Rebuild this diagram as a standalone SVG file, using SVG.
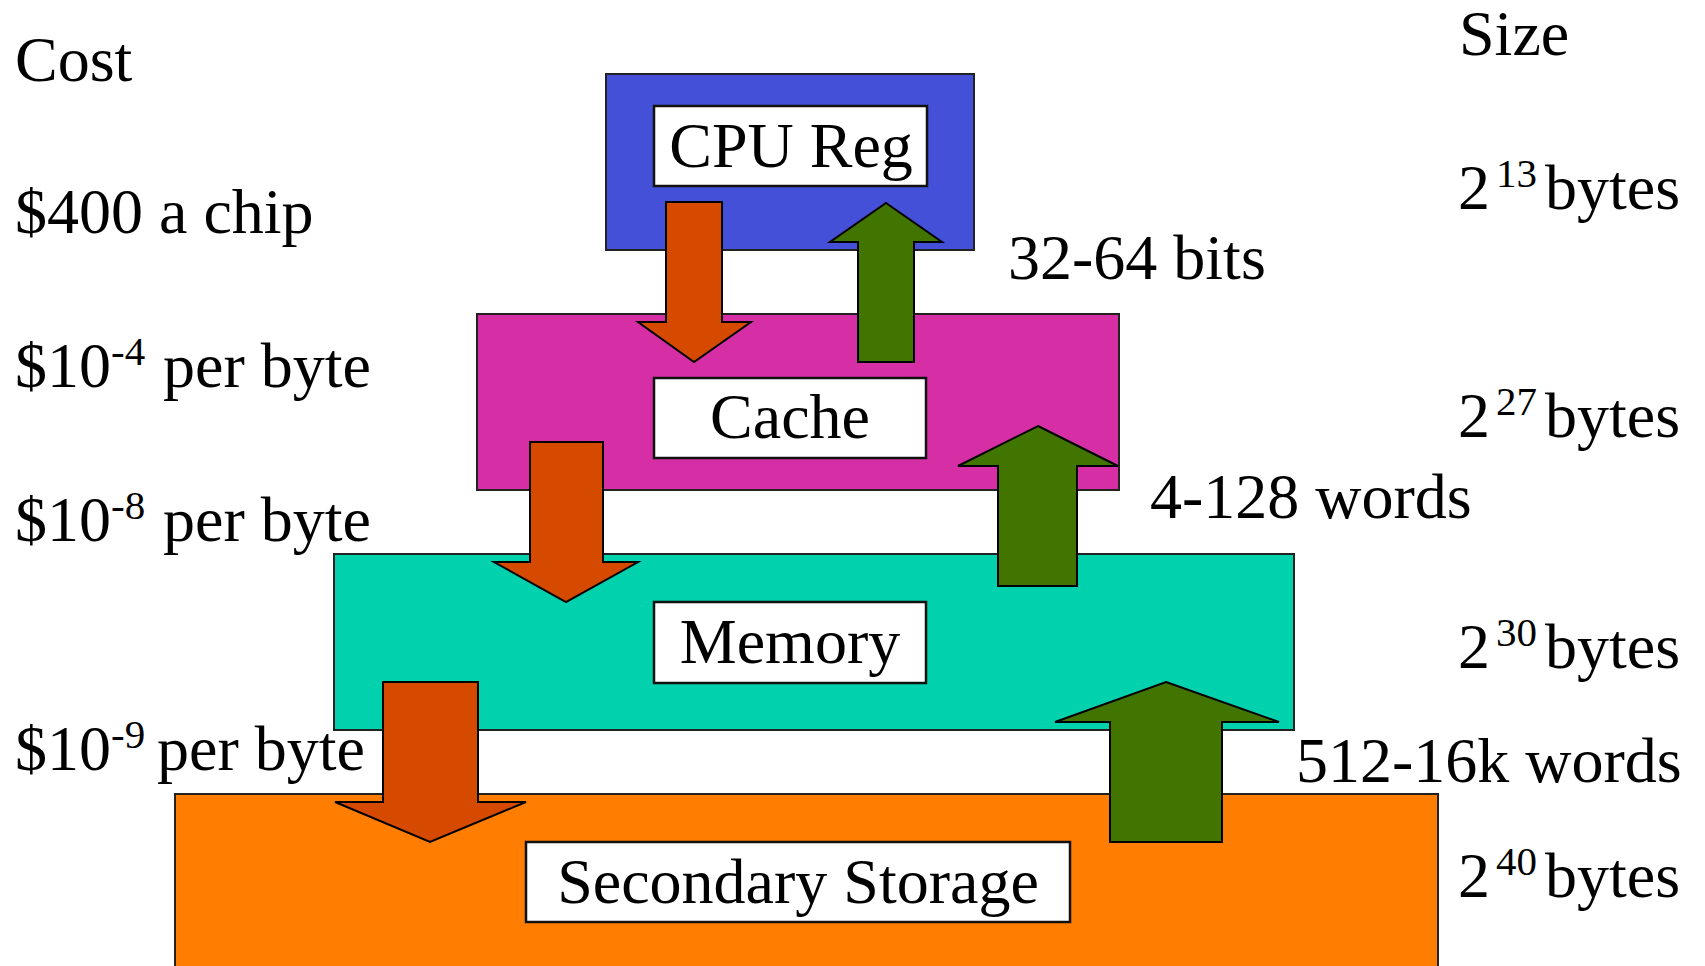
<svg xmlns="http://www.w3.org/2000/svg" width="1705" height="966" viewBox="0 0 1705 966">
  <style>
    text { font-family: "Liberation Serif", "Times New Roman", serif; font-size: 64px; fill: #000; }
    .sup { font-size: 41px; }
    .lbl { text-anchor: middle; }
    .tier { stroke: #222; stroke-width: 2; }
    .box { fill: #fff; stroke: #111; stroke-width: 2.5; }
    .down { fill: #D64A00; stroke: #000; stroke-width: 2; stroke-linejoin: miter; }
    .up { fill: #417500; stroke: #000; stroke-width: 2; stroke-linejoin: miter; }
  </style>

  <rect width="1705" height="966" fill="#fff"/>

  <!-- Memory hierarchy tiers -->
  <g id="cpu-reg">
    <rect class="tier" x="606" y="74" width="368" height="176" fill="#4350D7"/>
    <rect class="box" x="654" y="106" width="273" height="80"/>
    <text class="lbl" x="791" y="167">CPU Reg</text>
  </g>

  <g id="cache">
    <rect class="tier" x="477" y="314" width="642" height="176" fill="#D62FA6"/>
    <rect class="box" x="654" y="378" width="272" height="80"/>
    <text class="lbl" x="790" y="438">Cache</text>
  </g>

  <g id="memory">
    <rect class="tier" x="334" y="554" width="960" height="176" fill="#01D2AD"/>
    <rect class="box" x="654" y="602" width="272" height="81"/>
    <text class="lbl" x="790" y="663">Memory</text>
  </g>

  <g id="secondary-storage">
    <rect class="tier" x="175" y="794" width="1263" height="190" fill="#FF7D00"/>
    <rect class="box" x="526" y="842" width="544" height="80"/>
    <text class="lbl" x="798" y="903">Secondary Storage</text>
  </g>

  <!-- Transfer arrows between tiers -->
  <g id="connectors">
    <polygon class="down" points="666,202 722,202 722,322 751,322 694,362 638,322 666,322"/>
    <polygon class="up" points="886,203 942,242 914,242 914,362 858,362 858,242 830,242"/>
    <polygon class="down" points="530,442 603,442 603,562 638,562 566,602 494,562 530,562"/>
    <polygon class="up" points="1038,426 1118,466 1077,466 1077,586 998,586 998,466 958,466"/>
    <polygon class="down" points="383,682 478,682 478,802 526,802 430,842 335,802 383,802"/>
    <polygon class="up" points="1166,682 1279,722 1222,722 1222,842 1110,842 1110,722 1055,722"/>
  </g>

  <!-- Cost column -->
  <g id="cost">
    <text x="15" y="81">Cost</text>
    <text x="15" y="233">$400 a chip</text>
    <text><tspan x="15" y="387">$10</tspan><tspan class="sup" x="111" y="365">-4</tspan><tspan x="163" y="387">per byte</tspan></text>
    <text><tspan x="15" y="541">$10</tspan><tspan class="sup" x="111" y="519">-8</tspan><tspan x="163" y="541">per byte</tspan></text>
    <text><tspan x="15" y="770">$10</tspan><tspan class="sup" x="111" y="748">-9</tspan><tspan x="157" y="770">per byte</tspan></text>
  </g>

  <!-- Size column -->
  <g id="size">
    <text x="1459" y="55">Size</text>
    <text><tspan x="1458" y="209">2</tspan><tspan class="sup" x="1496" y="187">13</tspan><tspan x="1545" y="209">bytes</tspan></text>
    <text><tspan x="1458" y="437">2</tspan><tspan class="sup" x="1496" y="415">27</tspan><tspan x="1545" y="437">bytes</tspan></text>
    <text><tspan x="1458" y="668">2</tspan><tspan class="sup" x="1496" y="646">30</tspan><tspan x="1545" y="668">bytes</tspan></text>
    <text><tspan x="1458" y="897">2</tspan><tspan class="sup" x="1496" y="875">40</tspan><tspan x="1545" y="897">bytes</tspan></text>
  </g>

  <!-- Transfer unit labels -->
  <g id="transfer-units">
    <text x="1008" y="279">32-64 bits</text>
    <text x="1150" y="518">4-128 words</text>
    <text x="1296" y="782">512-16k words</text>
  </g>
</svg>
